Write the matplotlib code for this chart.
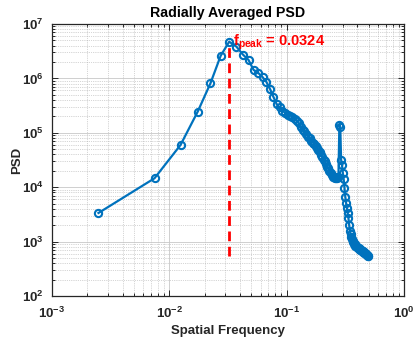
import matplotlib
matplotlib.use("Agg")
import matplotlib.pyplot as plt
import numpy as np

plt.rcParams['font.family'] = ['Liberation Sans', 'DejaVu Sans']
plt.rcParams['mathtext.fontset'] = 'custom'
plt.rcParams['mathtext.rm'] = 'Liberation Sans'
plt.rcParams['mathtext.bf'] = 'Liberation Sans:bold'

freq = [0.00249, 0.00748, 0.01246, 0.01745, 0.02243, 0.02742, 0.03240, 0.03739, 0.04237, 0.04736,
        0.05234, 0.05733, 0.06231, 0.06730, 0.07228, 0.07727, 0.08225, 0.08724, 0.09222, 0.09721,
        0.10219, 0.10718, 0.11216, 0.11715, 0.12213, 0.12712, 0.13210, 0.13709, 0.14207, 0.14706,
        0.15204, 0.15703, 0.16201, 0.16700, 0.17198, 0.17697, 0.18195, 0.18694, 0.19192, 0.19691,
        0.20189, 0.20688, 0.21186, 0.21685, 0.22183, 0.22682, 0.23180, 0.23679, 0.24177, 0.24676,
        0.25174, 0.25673, 0.26171, 0.26670, 0.27168, 0.27667, 0.28165, 0.28664, 0.29162, 0.29661,
        0.30159, 0.30658, 0.31156, 0.31655, 0.32153, 0.32652, 0.33150, 0.33649, 0.34147, 0.34646,
        0.35144, 0.35643, 0.36141, 0.36640, 0.37138, 0.37637, 0.38135, 0.38634, 0.39132, 0.39631,
        0.40129, 0.40628, 0.41126, 0.41625, 0.42123, 0.42622, 0.43120, 0.43619, 0.44117, 0.44616,
        0.45114, 0.45613, 0.46111, 0.46610, 0.47108, 0.47607, 0.48105, 0.48604, 0.49102, 0.49601]

psd = [3.36e3, 1.46e4, 5.97e4, 2.44e5, 8.13e5, 2.61e6, 4.73e6, 3.83e6, 2.75e6, 2.18e6,
       1.43e6, 1.26e6, 1.06e6, 8.59e5, 6.38e5, 4.55e5, 3.38e5, 2.92e5, 2.57e5, 2.31e5,
       2.17e5, 2.08e5, 1.98e5, 1.83e5, 1.68e5, 1.51e5, 1.28e5, 1.15e5, 1.06e5, 9.51e4,
       8.55e4, 7.86e4, 7.22e4, 6.63e4, 6.22e4, 5.72e4, 5.26e4, 4.83e4, 4.35e4, 3.91e4,
       3.59e4, 3.23e4, 2.97e4, 2.67e4, 2.40e4, 2.21e4, 1.99e4, 1.82e4, 1.68e4, 1.57e4,
       1.51e4, 1.48e4, 1.48e4, 1.48e4, 1.51e4, 1.54e4, 1.39e5, 1.28e5, 3.16e4, 2.56e4,
       1.82e4, 1.42e4, 9.67e3, 6.61e3, 5.13e3, 4.15e3, 3.36e3, 2.72e3, 2.02e3, 1.57e3,
       1.38e3, 1.22e3, 1.12e3, 1.03e3, 984, 923, 885, 848, 830, 806,
       796, 779, 763, 747, 731, 716, 701, 686, 672, 658,
       644, 631, 617, 609, 599, 592, 579, 567, 555, 543]

f_peak = 0.0324
title = "Radially Averaged PSD"
xlabel = "Spatial Frequency"
ylabel = "PSD"

blue = (0, 0.447, 0.741)
dark = "#262626"

fig = plt.figure(figsize=(4.14, 3.43), dpi=100)
ax = fig.add_axes([0.1256, 0.137, 0.85, 0.793])

ax.plot(freq, psd, '-o', color=blue, lw=1.6, ms=5.2, mfc='none', mew=1.5)
ax.plot([f_peak, f_peak], [min(psd), max(psd)], '--', color='red', lw=2, dashes=(3.5, 2))
ax.text(f_peak * 1.07, max(psd) * 0.98, r'$\mathbf{f_{peak}}$' + ' = 0.0324', color='red',
        fontsize=10.5, fontweight='bold', ha='left', va='center')

ax.set_xscale('log')
ax.set_yscale('log')
ax.set_xlim(1e-3, 1)
ax.set_ylim(1e2, 1e7)

ax.grid(True, which='major', color=(0.78, 0.78, 0.78), lw=0.6, ls='-')
ax.grid(True, which='minor', color=(0.68, 0.68, 0.68), lw=0.5, ls=':')
ax.set_axisbelow(True)

ax.tick_params(which='both', direction='in', top=True, right=True, colors=dark,
               labelsize=9.5, width=0.7)
ax.tick_params(which='major', length=4)
ax.tick_params(which='minor', length=2)
ax.tick_params(axis='x', which='major', pad=7)
ax.tick_params(axis='y', which='major', pad=6)
for lab in ax.get_xticklabels() + ax.get_yticklabels():
    lab.set_fontweight('bold')
for s in ax.spines.values():
    s.set_color(dark)
    s.set_linewidth(0.9)

ax.set_title(title, fontsize=10.2, fontweight='bold', pad=5)
ax.set_xlabel(xlabel, fontsize=9.5, fontweight='bold', color=dark, labelpad=3)
ax.set_ylabel(ylabel, fontsize=9.5, fontweight='bold', color=dark, labelpad=-1)

fig.savefig("out.png", dpi=100)
